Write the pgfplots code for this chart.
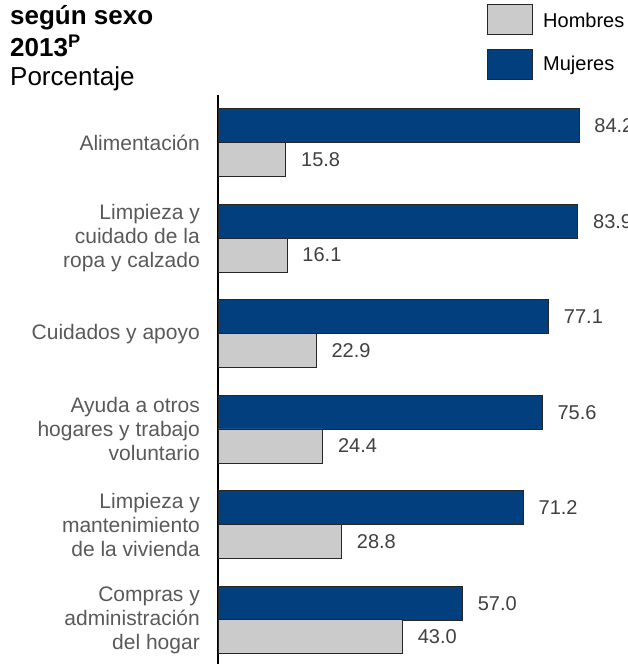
\documentclass[border=0pt]{standalone}
\usepackage{pgfplots}
\pgfplotsset{compat=1.18}
\usepackage{fontspec}
\setmainfont{Liberation Sans}
\definecolor{navy}{HTML}{023F7E}
\definecolor{grisbar}{HTML}{CBCBCB}
\definecolor{txtgris}{HTML}{595959}
\definecolor{numgris}{HTML}{404040}
\definecolor{borde}{HTML}{262626}

\begin{document}
\begin{tikzpicture}[x=1pt,y=1pt]
\clip (0,0) rectangle (628,664);
\begin{axis}[
  at={(218pt,569pt)}, anchor=north west,
  scale only axis, width=410pt, height=569pt,
  xmin=0, xmax=95.64, ymin=-0.5, ymax=5.46, y dir=reverse,
  hide x axis, axis y line*=left,
  y axis line style={line width=1.2pt, black},
  ytick={0,...,5},
  yticklabels={Alimentación,
    {Limpieza y\\cuidado de la\\ropa y calzado},
    Cuidados y apoyo,
    {Ayuda a otros\\hogares y trabajo\\voluntario},
    {Limpieza y\\mantenimiento\\de la vivienda},
    {Compras y\\administración\\del hogar}},
  major tick length=0pt,
  yticklabel style={align=right, font=\fontsize{21}{24}\selectfont,
    text=txtgris, inner sep=0pt, xshift=-18pt},
  xbar, bar width=34pt, bar shift=0pt,
  clip=false,
  nodes near coords, point meta=x,
  nodes near coords style={anchor=west, inner sep=0pt, xshift=15pt,
    font=\fontsize{20}{24}\selectfont, text=numgris,
    /pgf/number format/assume math mode=true,
    /pgf/number format/fixed, /pgf/number format/fixed zerofill,
    /pgf/number format/precision=1},
]
\addplot[fill=navy, draw=borde, line width=0.9pt] coordinates {
  (84.2,-0.176) (83.9,0.824) (77.1,1.824) (75.6,2.824) (71.2,3.824) (57.0,4.824)};
\addplot[fill=grisbar, draw=borde, line width=0.9pt] coordinates {
  (15.8,0.176) (16.1,1.176) (22.9,2.176) (24.4,3.176) (28.8,4.176) (43.0,5.176)};
\end{axis}
% title
\node[anchor=base west, inner sep=0pt, font=\bfseries\fontsize{26}{30}\selectfont] at (10,639) {según sexo};
\node[anchor=base west, inner sep=0pt, font=\bfseries\fontsize{26}{30}\selectfont] at (10,607) {2013\textsuperscript{P}};
\node[anchor=base west, inner sep=0pt, font=\fontsize{26}{30}\selectfont] at (10,578) {Porcentaje};
% legend
\draw[fill=grisbar, draw=borde, line width=1pt] (487,659) rectangle (532,629);
\draw[fill=navy, draw=borde, line width=1pt] (487,614) rectangle (532,584);
\node[anchor=west, inner sep=0pt, font=\fontsize{20}{24}\selectfont] at (543,644) {Hombres};
\node[anchor=west, inner sep=0pt, font=\fontsize{20}{24}\selectfont] at (543,599) {Mujeres};
\end{tikzpicture}
\end{document}
